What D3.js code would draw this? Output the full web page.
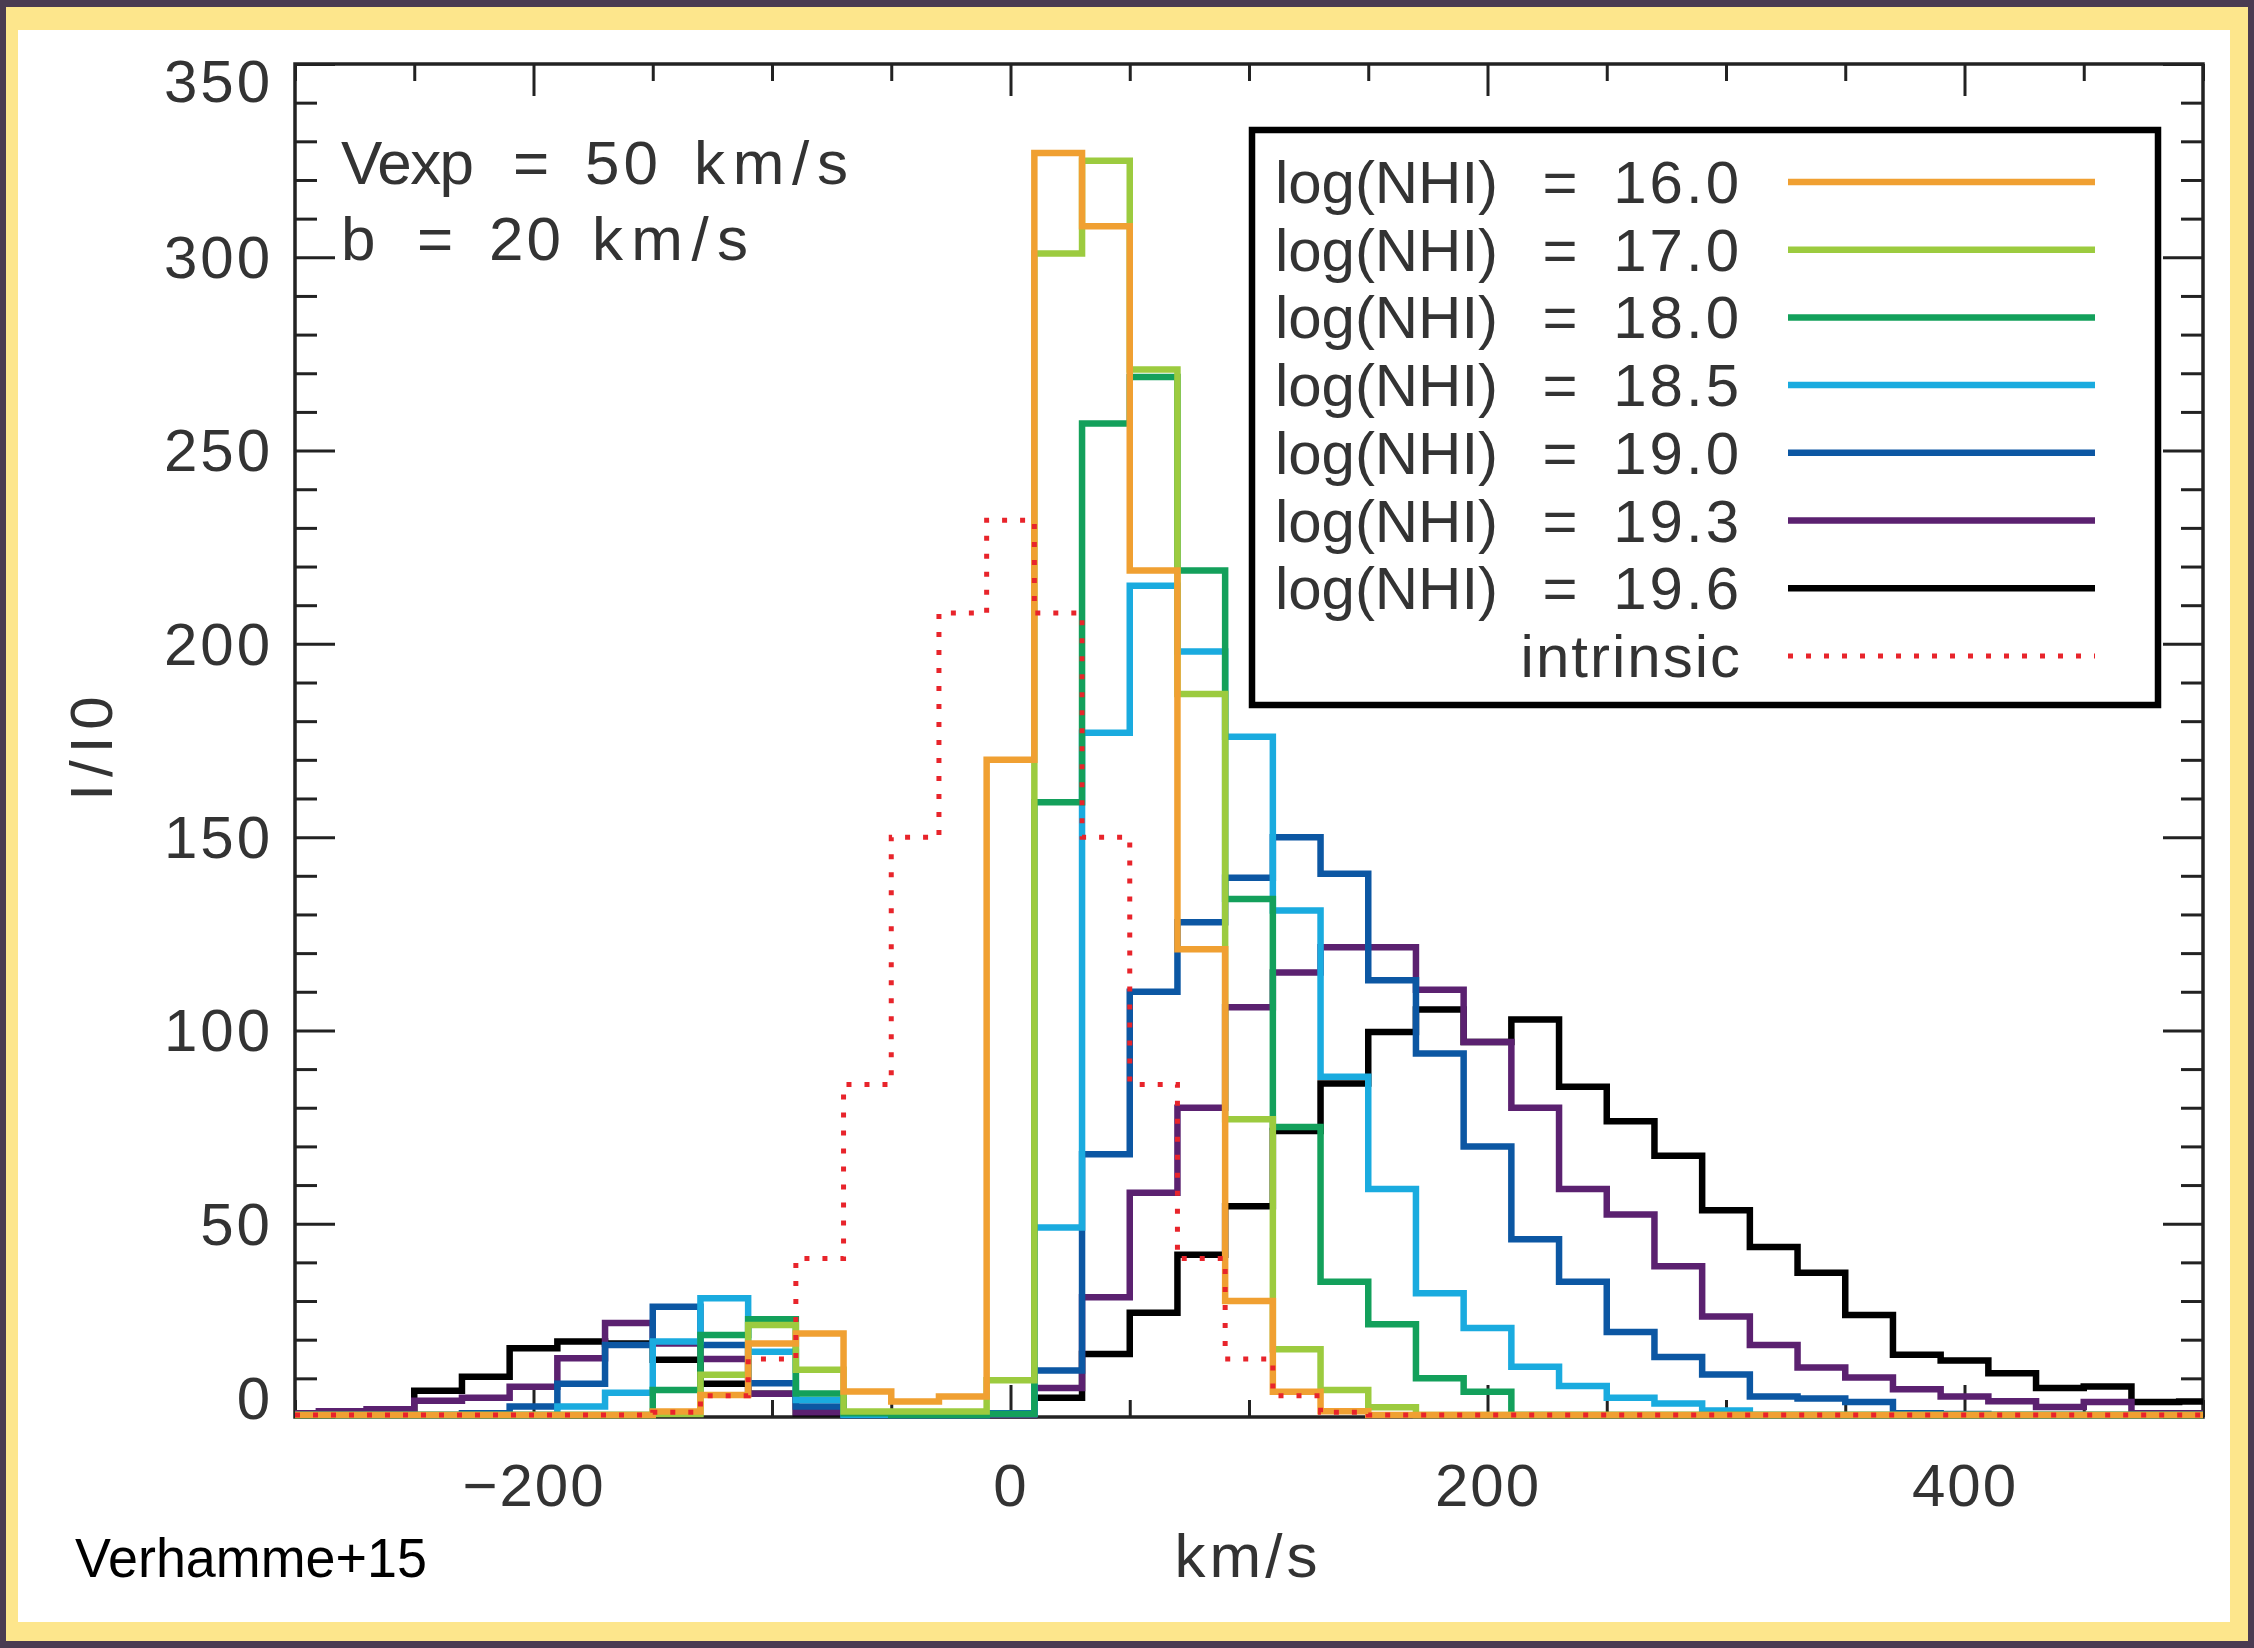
<!DOCTYPE html>
<html><head><meta charset="utf-8">
<script src="https://cdn.jsdelivr.net/npm/d3@7"></script>
<style>html,body{margin:0;padding:0;background:#4a3b51;} svg{display:block}</style>
</head><body>
<svg id="chart" width="2254" height="1648"></svg>
<script>
// ---------- data (bin centres in km/s, 20 km/s bins) ----------
const velocity = [-300,-280,-260,-240,-220,-200,-180,-160,-140,-120,-100,-80,-60,-40,-20,0,20,40,60,80,100,120,140,160,180,200,220,240,260,280,300,320,340,360,380,400,420,440,460,480,500];

const nhi160 = [0.5,0.5,0.5,0.5,0.5,0.5,0.5,0.5,1.4,5.7,19,21.6,6.6,4,5.3,170,327,308,219,121,30,6.5,1.5,0.5,0.5,0.5,0.5,0.5,0.5,0.5,0.5,0.5,0.5,0.5,0.5,0.5,0.5,0.5,0.5,0.5,0.5];
const nhi170 = [0.5,0.5,0.5,0.5,0.5,0.5,0.5,0.5,0.8,10.9,23.8,12.2,1.4,1.4,1.4,9.5,301,325,271,187,77,17.5,7,2.5,0.5,0.5,0.5,0.5,0.5,0.5,0.5,0.5,0.5,0.5,0.5,0.5,0.5,0.5,0.5,0.5,0.5];
const nhi180 = [0.5,0.5,0.5,0.5,0.5,0.5,0.5,0.5,7,21.2,25.3,6.1,1,0.5,0.5,0.8,159,257,269,219,134,75,35,24,10,6.5,0.5,0.5,0.5,0.5,0.5,0.5,0.5,0.5,0.5,0.5,0.5,0.5,0.5,0.5,0.5];
const nhi185 = [0.5,0.5,0.5,0.5,0.5,0.5,2.7,6.3,19.5,30.7,16.9,4.4,0.5,0.5,0.5,0.8,49,177,215,198,176,131,88,59,32,23,13,8,5,3.5,1.7,0.5,0.5,0.5,0.5,0.5,0.5,0.5,0.5,0.5,0.5];
const nhi190 = [0.5,0.5,0.5,0.5,1,2.7,8.6,18.6,28.5,18.6,8.7,2.7,0.5,0.5,0.5,1,12,68,110,128,139.5,150,140.5,113,94,70,46,35,22,15.5,11,5.3,4.8,3.9,1,0.8,0.5,0.5,0.5,0.5,0.5];
const nhi193 = [1,1.5,2,4.2,5,7.8,15.2,24.3,19,15,6,1.2,0.5,0.5,0.5,0.5,7.5,31,58,80,106,115,121.5,121.5,110.5,97,80,59,52.4,39,26,18.6,12.8,10.2,7.2,5.3,4.1,2.6,3.9,1,1];
const nhi196 = [0.5,1,1,6.8,10.4,17.8,19.5,19,14.8,8.6,6,1,0.5,0.5,0.5,0.5,5,16.3,27,42,54.5,74,86.3,99.6,105.4,97,102.8,85.4,76.5,67.6,53.5,44,37.3,26.4,16.1,14.6,11.3,7.5,7.9,3.9,4];
const intrinsic = [0.5,0.5,0.5,0.5,0.5,0.5,0.5,0.5,1.2,5.5,15,41,86,150,208,232,208,150,86,41,15,5.5,1.2,0.5,0.5,0.5,0.5,0.5,0.5,0.5,0.5,0.5,0.5,0.5,0.5,0.5,0.5,0.5,0.5,0.5,0.5];

const seriesNames = ["16.0","17.0","18.0","18.5","19.0","19.3","19.6"];
const seriesColors = ["#f0a032","#9ccb3f","#13a05b","#1aabdf","#0c57a3","#5b2170","#000000"];
const seriesValues = [nhi160,nhi170,nhi180,nhi185,nhi190,nhi193,nhi196];
const intrinsicColor = "#e8242b";

const xMajorTicks = [-200,0,200,400];
const yMajorTicks = [0,50,100,150,200,250,300,350];

// ---------- layout ----------
const svg = d3.select("#chart");
const W = 2254, H = 1648;
const L = 295, R = 2203, T = 64, B = 1417;
const x = d3.scaleLinear().domain([-300,500]).range([L,R]);
const y = d3.scaleLinear().domain([0,350]).range([B,T]);
const FONT = "'Liberation Sans', Arial, sans-serif";
const TXT = "#333";

// background frame (dark + yellow brush + white card)
svg.append("rect").attr("width",W).attr("height",H).attr("fill","#4a3b51");
svg.append("rect").attr("x",6).attr("y",7).attr("width",2242).attr("height",1634).attr("fill","#fde68c");
svg.append("rect").attr("x",18).attr("y",30).attr("width",2212).attr("height",1592).attr("fill","#ffffff");

const defs = svg.append("defs");
defs.append("clipPath").attr("id","plotclip").append("rect")
  .attr("x",L).attr("y",T-20).attr("width",R-L).attr("height",B-T+25);

// ---------- axes ----------
const xMinor = d3.range(-300,501,50).filter(v => !xMajorTicks.includes(v));
const yMinor = d3.range(0,351,10).filter(v => !yMajorTicks.includes(v));

function styleAxis(g){
  g.select(".domain").remove();
  g.selectAll(".tick line").attr("stroke","#222").attr("stroke-width",3);
}
// bottom
svg.append("g").attr("transform",`translate(0,${B})`)
  .call(d3.axisBottom(x).tickValues(xMajorTicks).tickSize(-32).tickPadding(46)
        .tickFormat(d => d < 0 ? "\u2212" + Math.abs(d) : d))
  .call(styleAxis)
  .call(g => g.selectAll("text").attr("font-family",FONT).attr("font-size",60)
        .attr("fill",TXT).attr("letter-spacing",2));
svg.append("g").attr("transform",`translate(0,${B})`)
  .call(d3.axisBottom(x).tickValues(xMinor).tickSize(-17).tickFormat(""))
  .call(styleAxis);
// top
svg.append("g").attr("transform",`translate(0,${T})`)
  .call(d3.axisTop(x).tickValues(xMajorTicks).tickSize(-32).tickFormat(""))
  .call(styleAxis);
svg.append("g").attr("transform",`translate(0,${T})`)
  .call(d3.axisTop(x).tickValues(xMinor).tickSize(-17).tickFormat(""))
  .call(styleAxis);
// left
svg.append("g").attr("transform",`translate(${L},0)`)
  .call(d3.axisLeft(y).tickValues(yMajorTicks).tickSize(-40).tickPadding(22))
  .call(styleAxis)
  .call(g => g.selectAll("text").attr("font-family",FONT).attr("font-size",60)
        .attr("fill",TXT).attr("letter-spacing",3)
        .attr("dy", d => d === 350 ? "0.62em" : (d === 0 ? "0.02em" : "0.34em")));
svg.append("g").attr("transform",`translate(${L},0)`)
  .call(d3.axisLeft(y).tickValues(yMinor).tickSize(-22).tickFormat(""))
  .call(styleAxis);
// right
svg.append("g").attr("transform",`translate(${R},0)`)
  .call(d3.axisRight(y).tickValues(yMajorTicks).tickSize(-40).tickFormat(""))
  .call(styleAxis);
svg.append("g").attr("transform",`translate(${R},0)`)
  .call(d3.axisRight(y).tickValues(yMinor).tickSize(-22).tickFormat(""))
  .call(styleAxis);

// frame
svg.append("rect").attr("x",L).attr("y",T).attr("width",R-L).attr("height",B-T)
  .attr("fill","none").attr("stroke","#222").attr("stroke-width",3.5);

// ---------- histograms ----------
const step = d3.line().curve(d3.curveStep).x(d => x(d[0])).y(d => y(d[1]));
const hist = svg.append("g").attr("clip-path","url(#plotclip)");
// draw high column densities first so the lower ones sit on top
for (let i = seriesValues.length - 1; i >= 0; i--) {
  const pts = velocity.map((v,j) => [v, seriesValues[i][j]]);
  hist.append("path").datum(pts).attr("d",step)
    .attr("fill","none").attr("stroke",seriesColors[i]).attr("stroke-width",6.5)
    .attr("stroke-linejoin","miter");
}
hist.append("path").datum(velocity.map((v,j) => [v, intrinsic[j]])).attr("d",step)
  .attr("fill","none").attr("stroke",intrinsicColor).attr("stroke-width",5)
  .attr("stroke-dasharray","5 13");

// ---------- annotations ----------
function words(parts, yy){
  parts.forEach(([t,x0,x1]) => {
    svg.append("text").attr("x",x0).attr("y",yy).attr("font-family",FONT).attr("font-size",62)
      .attr("fill",TXT).attr("textLength",x1-x0).attr("lengthAdjust","spacing").text(t);
  });
}
words([["Vexp",341,474],["=",513,549],["50",585,658],["km/s",694,848]],184);
words([["b",341,371],["=",417,453],["20",489,561],["km/s",592,748]],260);

// axis titles
svg.append("text").attr("x",1248).attr("y",1577).attr("text-anchor","middle")
  .attr("font-family",FONT).attr("font-size",62).attr("fill",TXT)
  .attr("letter-spacing",4).text("km/s");
svg.append("text").attr("transform","translate(112,745) rotate(-90)").attr("text-anchor","middle")
  .attr("font-family",FONT).attr("font-size",60).attr("fill",TXT)
  .attr("letter-spacing",7).text("I/I0");

svg.append("text").attr("x",75).attr("y",1577).attr("font-family","'Liberation Sans', Arial, sans-serif")
  .attr("font-size",56).attr("fill","#000").attr("textLength",352).attr("lengthAdjust","spacingAndGlyphs")
  .text("Verhamme+15");

// ---------- legend ----------
const lg = svg.append("g");
lg.append("rect").attr("x",1252).attr("y",130).attr("width",906).attr("height",575)
  .attr("fill","#fff").attr("stroke","#000").attr("stroke-width",6.5);
const rowY = i => 182 + i*67.7;
seriesNames.forEach((name,i) => {
  const yy = rowY(i);
  lg.append("text").attr("x",1275).attr("y",yy+21).attr("font-family",FONT).attr("font-size",60)
    .attr("fill",TXT).attr("textLength",223).attr("lengthAdjust","spacing").text("log(NHI)");
  lg.append("text").attr("x",1560).attr("y",yy+21).attr("text-anchor","middle").attr("font-family",FONT)
    .attr("font-size",60).attr("fill",TXT).text("=");
  lg.append("text").attr("x",1742).attr("y",yy+21).attr("text-anchor","end").attr("font-family",FONT)
    .attr("font-size",60).attr("fill",TXT).attr("letter-spacing",3).text(name);
  lg.append("line").attr("x1",1788).attr("x2",2095).attr("y1",yy).attr("y2",yy)
    .attr("stroke",seriesColors[i]).attr("stroke-width",6.5);
});
const iy = rowY(7);
lg.append("text").attr("x",1742).attr("y",iy+21).attr("text-anchor","end").attr("font-family",FONT)
  .attr("font-size",60).attr("fill",TXT).attr("letter-spacing",2).text("intrinsic");
lg.append("line").attr("x1",1788).attr("x2",2095).attr("y1",iy).attr("y2",iy)
  .attr("stroke",intrinsicColor).attr("stroke-width",5).attr("stroke-dasharray","5 13");
</script>
</body></html>
